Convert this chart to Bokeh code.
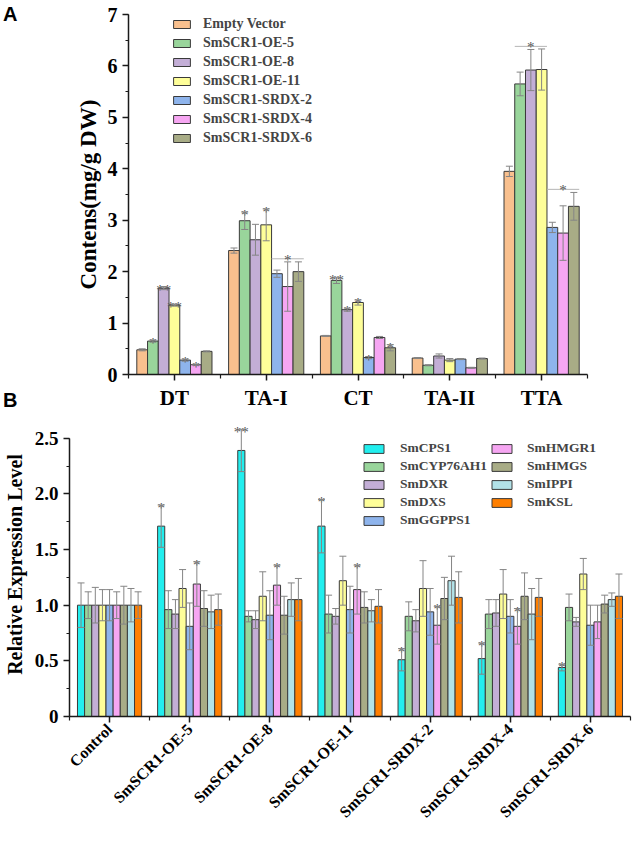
from math import pi
from bokeh.plotting import figure
from bokeh.models import (ColumnDataSource, Whisker, TeeHead, FixedTicker, Legend,
                          LegendItem, Range1d, Div)
from bokeh.embed import file_html
from bokeh.resources import INLINE
from bokeh.core.properties import value

SERIF = "Liberation Serif"
SANS = "Liberation Sans"

# ---------------- Panel A data ----------------
A_categories = ["DT", "TA-I", "CT", "TA-II", "TTA"]
A_series = ["Empty Vector", "SmSCR1-OE-5", "SmSCR1-OE-8", "SmSCR1-OE-11",
            "SmSCR1-SRDX-2", "SmSCR1-SRDX-4", "SmSCR1-SRDX-6"]
A_colors = ["#F9C08E", "#99D59B", "#C3AED6", "#FEFE99", "#8EB4EC", "#F6A6F2", "#A8AC86"]

ev = [0.48, 2.41, 0.75, 0.32, 3.95]
oe5 = [0.65, 2.99, 1.83, 0.18, 5.65]
oe8 = [1.68, 2.62, 1.26, 0.36, 5.92]
oe11 = [1.35, 2.91, 1.40, 0.28, 5.93]
srdx2 = [0.28, 1.96, 0.33, 0.30, 2.86]
srdx4 = [0.19, 1.71, 0.72, 0.13, 2.75]
srdx6 = [0.45, 2.00, 0.52, 0.31, 3.27]

ev_err = [0.02, 0.05, 0.01, 0.01, 0.10]
oe5_err = [0.02, 0.17, 0.06, 0.01, 0.23]
oe8_err = [0.03, 0.30, 0.03, 0.04, 0.40]
oe11_err = [0.02, 0.31, 0.05, 0.03, 0.40]
srdx2_err = [0.02, 0.07, 0.02, 0.01, 0.10]
srdx4_err = [0.01, 0.48, 0.02, 0.01, 0.53]
srdx6_err = [0.01, 0.19, 0.06, 0.01, 0.27]

ev_sig = ["", "", "", "", ""]
oe5_sig = ["*", "*", "**", "", ""]
oe8_sig = ["**", "", "*", "", ""]
oe11_sig = ["**", "*", "*", "", ""]
srdx2_sig = ["*", "", "*", "", ""]
srdx4_sig = ["*", "", "", "", ""]
srdx6_sig = ["", "", "*", "", ""]

# group brackets: category, first series, last series, height, mark
A_brackets = [("TA-I", 4, 6, 2.25, "*"), ("TTA", 1, 3, 6.38, "*"), ("TTA", 4, 6, 3.60, "*")]

A_yticks = [0, 1, 2, 3, 4, 5, 6, 7]
A_yminor = [0.5 * k for k in range(15)]

# ---------------- Panel B data ----------------
B_lines = ["Control", "SmSCR1-OE-5", "SmSCR1-OE-8", "SmSCR1-OE-11",
           "SmSCR1-SRDX-2", "SmSCR1-SRDX-4", "SmSCR1-SRDX-6"]
B_genes = ["SmCPS1", "SmCYP76AH1", "SmDXR", "SmDXS", "SmGGPPS1",
           "SmHMGR1", "SmHMGS", "SmIPPI", "SmKSL"]
B_colors = ["#22EEEE", "#99D59B", "#C3AED6", "#FEFE99", "#8EB4EC",
            "#F6A6F2", "#A8AC86", "#B2E2E8", "#FF7F00"]

cps1 = [1.00, 1.71, 2.39, 1.71, 0.51, 0.52, 0.44]
cyp76ah1 = [1.00, 0.96, 0.90, 0.92, 0.90, 0.92, 0.98]
dxr = [1.00, 0.92, 0.87, 0.90, 0.86, 0.93, 0.85]
dxs = [1.00, 1.15, 1.08, 1.22, 1.15, 1.10, 1.28]
ggpps1 = [1.00, 0.81, 0.91, 0.96, 0.94, 0.90, 0.82]
hmgr1 = [1.00, 1.19, 1.18, 1.14, 0.82, 0.81, 0.85]
hmgs = [1.00, 0.97, 0.91, 0.98, 1.06, 1.08, 1.01]
ippi = [1.00, 0.94, 1.05, 0.95, 1.22, 0.92, 1.05]
ksl = [1.00, 0.96, 1.05, 0.99, 1.07, 1.07, 1.08]

cps1_err = [0.20, 0.19, 0.19, 0.24, 0.10, 0.14, 0.03]
cyp76ah1_err = [0.12, 0.17, 0.05, 0.17, 0.13, 0.13, 0.12]
dxr_err = [0.16, 0.13, 0.08, 0.07, 0.10, 0.12, 0.04]
dxs_err = [0.14, 0.17, 0.22, 0.22, 0.25, 0.22, 0.14]
ggpps1_err = [0.14, 0.21, 0.22, 0.21, 0.21, 0.15, 0.18]
hmgr1_err = [0.12, 0.20, 0.18, 0.22, 0.17, 0.16, 0.15]
hmgs_err = [0.17, 0.16, 0.17, 0.14, 0.19, 0.21, 0.08]
ippi_err = [0.15, 0.15, 0.15, 0.10, 0.22, 0.23, 0.06]
ksl_err = [0.12, 0.14, 0.19, 0.15, 0.23, 0.17, 0.20]

cps1_sig = ["", "*", "**", "*", "*", "*", "*"]
hmgr1_sig = ["", "*", "*", "*", "*", "*", ""]
blank_sig = ["", "", "", "", "", "", ""]

B_yticks = [0, 0.5, 1.0, 1.5, 2.0, 2.5]
B_ytick_labels = ["0", "0.5", "1.0", "1.5", "2.0", "2.5"]
B_yminor = [0.25 * k for k in range(11)]

A_vals = [ev, oe5, oe8, oe11, srdx2, srdx4, srdx6]
A_errs = [ev_err, oe5_err, oe8_err, oe11_err, srdx2_err, srdx4_err, srdx6_err]
A_sigs = [ev_sig, oe5_sig, oe8_sig, oe11_sig, srdx2_sig, srdx4_sig, srdx6_sig]

B_vals = [cps1, cyp76ah1, dxr, dxs, ggpps1, hmgr1, hmgs, ippi, ksl]
B_errs = [cps1_err, cyp76ah1_err, dxr_err, dxs_err, ggpps1_err, hmgr1_err, hmgs_err, ippi_err, ksl_err]
B_sigs = [cps1_sig, blank_sig, blank_sig, blank_sig, blank_sig, hmgr1_sig, blank_sig, blank_sig, blank_sig]

EDGE = "#3a3a3a"
ERR = "#858585"
STAR = "#555555"
AXIS = "#1a1a1a"


def style_axes(p):
    p.outline_line_color = None
    p.xgrid.grid_line_color = None
    p.ygrid.grid_line_color = None
    p.background_fill_color = "white"
    p.border_fill_color = "white"
    for ax in (p.xaxis[0], p.yaxis[0]):
        ax.axis_line_color = AXIS
        ax.axis_line_width = 1.5
        ax.major_tick_line_color = AXIS
        ax.major_tick_line_width = 1.5
        ax.minor_tick_line_color = AXIS
        ax.minor_tick_line_width = 1.2
        ax.major_tick_in = 0
        ax.minor_tick_in = 0
        ax.major_label_text_font = SERIF
        ax.major_label_text_font_style = "bold"
        ax.major_label_text_color = "black"
        ax.axis_label_text_font = SERIF
        ax.axis_label_text_font_style = "bold"
        ax.axis_label_text_color = "black"


def draw_groups(p, vals_list, errs_list, sigs_list, colors, ncat, bar_w, star_size):
    n = len(vals_list)
    mid = (n - 1) / 2
    rends = []
    for j, (vals, errs, sigs, col) in enumerate(zip(vals_list, errs_list, sigs_list, colors)):
        xs = [i + 0.5 + (j - mid) * bar_w for i in range(ncat)]
        src = ColumnDataSource(dict(
            x=xs, top=vals,
            upper=[v + e for v, e in zip(vals, errs)],
            lower=[v - e for v, e in zip(vals, errs)],
            sig=sigs))
        r = p.vbar(x="x", top="top", bottom=0, width=bar_w, source=src,
                   fill_color=col, line_color=EDGE, line_width=1)
        rends.append(r)
        w = Whisker(base="x", upper="upper", lower="lower", source=src,
                    line_color=ERR, line_width=1, level="overlay",
                    upper_head=TeeHead(size=7, line_color=ERR, line_width=1),
                    lower_head=TeeHead(size=7, line_color=ERR, line_width=1))
        p.add_layout(w)
        p.text(x="x", y="upper", text="sig", source=src, text_align="center",
               text_baseline="alphabetic", y_offset=3, text_font=value(SERIF),
               text_font_size=star_size, text_color=STAR)
    return rends


# ================= Panel A =================
pa = figure(width=633, height=412, x_range=Range1d(0, 5), y_range=Range1d(0, 7),
            output_backend="svg", toolbar_location=None,
            min_border_left=128, min_border_right=46, min_border_top=14, min_border_bottom=35)
style_axes(pa)
bw_a = 0.117
rends_a = draw_groups(pa, A_vals, A_errs, A_sigs, A_colors, len(A_categories), bw_a, "15px")

# brackets
bx0, bx1, by, bt, bxm = [], [], [], [], []
for cat, j0, j1, h, mark in A_brackets:
    c = A_categories.index(cat) + 0.5
    x0 = c + (j0 - 3) * bw_a - bw_a / 2
    x1 = c + (j1 - 3) * bw_a + bw_a / 2
    bx0.append(x0); bx1.append(x1); by.append(h); bt.append(mark); bxm.append((x0 + x1) / 2)
bsrc = ColumnDataSource(dict(x0=bx0, x1=bx1, y=by, t=bt, xm=bxm))
pa.segment(x0="x0", x1="x1", y0="y", y1="y", source=bsrc, line_color="#b5b5b5", line_width=1)
pa.text(x="xm", y="y", text="t", source=bsrc, text_align="center", text_baseline="alphabetic",
        y_offset=1, text_font=value(SERIF), text_font_size="15px", text_color=STAR)

pa.yaxis.ticker = FixedTicker(ticks=A_yticks, minor_ticks=A_yminor)
pa.yaxis.axis_label = "Contens(mg/g DW)"
pa.yaxis.axis_label_text_font_size = "23px"
pa.yaxis.axis_label_standoff = 4
pa.yaxis.major_label_text_font_size = "20px"
pa.yaxis.major_tick_out = 6
pa.yaxis.minor_tick_out = 3
pa.yaxis.major_label_standoff = 5

pa.xaxis.ticker = FixedTicker(ticks=[i + 0.5 for i in range(len(A_categories))],
                              minor_ticks=list(range(len(A_categories) + 1)))
pa.xaxis.major_label_overrides = {i + 0.5: c for i, c in enumerate(A_categories)}
pa.xaxis.major_label_text_font_size = "21px"
pa.xaxis.major_tick_out = 6
pa.xaxis.minor_tick_out = 4
pa.xaxis.major_label_standoff = 5

leg_a = Legend(items=[LegendItem(label=s, renderers=[r]) for s, r in zip(A_series, rends_a)],
               location=(43, 227), glyph_width=21, glyph_height=10, label_standoff=11,
               spacing=0, label_height=19, padding=0, margin=0,
               border_line_color=None, background_fill_alpha=0,
               label_text_font=SERIF, label_text_font_style="bold", label_text_font_size="14px")
pa.add_layout(leg_a)

# ================= Panel B =================
pb = figure(width=633, height=432, x_range=Range1d(0, 7), y_range=Range1d(0, 2.731),
            output_backend="svg", toolbar_location=None,
            min_border_left=66, min_border_right=3, min_border_top=0, min_border_bottom=128)
style_axes(pb)
bw_b = 0.089
rends_b = draw_groups(pb, B_vals, B_errs, B_sigs, B_colors, len(B_lines), bw_b, "15px")

pb.yaxis.ticker = FixedTicker(ticks=B_yticks, minor_ticks=B_yminor)
pb.yaxis.bounds = (0, 2.5)
pb.yaxis.major_label_overrides = {t: l for t, l in zip(B_yticks, B_ytick_labels)}
pb.yaxis.axis_label = "Relative Expression Level"
pb.yaxis.axis_label_text_font_size = "20px"
pb.yaxis.axis_label_standoff = 6
pb.yaxis.major_label_text_font_size = "19px"
pb.yaxis.major_tick_out = 6
pb.yaxis.minor_tick_out = 3
pb.yaxis.major_label_standoff = 5

pb.xaxis.ticker = FixedTicker(ticks=[i + 0.5 for i in range(len(B_lines))],
                              minor_ticks=list(range(len(B_lines) + 1)))
pb.xaxis.major_label_overrides = {i + 0.5: c for i, c in enumerate(B_lines)}
pb.xaxis.major_label_orientation = pi / 4
pb.xaxis.major_label_text_font_size = "16px"
pb.xaxis.major_tick_out = 6
pb.xaxis.minor_tick_out = 4
pb.xaxis.major_label_standoff = 4

leg_b1 = Legend(items=[LegendItem(label=g, renderers=[r]) for g, r in zip(B_genes[:5], rends_b[:5])],
                location=(292, 187), glyph_width=25, glyph_height=11, label_standoff=14,
                spacing=0, label_height=18, padding=0, margin=0,
                border_line_color=None, background_fill_alpha=0,
                label_text_font=SERIF, label_text_font_style="bold", label_text_font_size="13.5px")
leg_b2 = Legend(items=[LegendItem(label=g, renderers=[r]) for g, r in zip(B_genes[5:], rends_b[5:])],
                location=(420, 205), glyph_width=25, glyph_height=11, label_standoff=13,
                spacing=0, label_height=18, padding=0, margin=0,
                border_line_color=None, background_fill_alpha=0,
                label_text_font=SERIF, label_text_font_style="bold", label_text_font_size="13.5px")
pb.add_layout(leg_b1)
pb.add_layout(leg_b2)

# panel letters, positioned over the page corners
letter_css = {"position": "absolute", "font-family": SANS, "font-weight": "bold",
              "font-size": "20px", "color": "black", "line-height": "20px", "margin": "0"}
div_a = Div(text="A", width=20, height=22, styles=dict(letter_css, left="3px", top="4px"))
div_b = Div(text="B", width=20, height=22, styles=dict(letter_css, left="3px", top="390px"))

open("out.html", "w").write(file_html([pa, pb, div_a, div_b], INLINE))
